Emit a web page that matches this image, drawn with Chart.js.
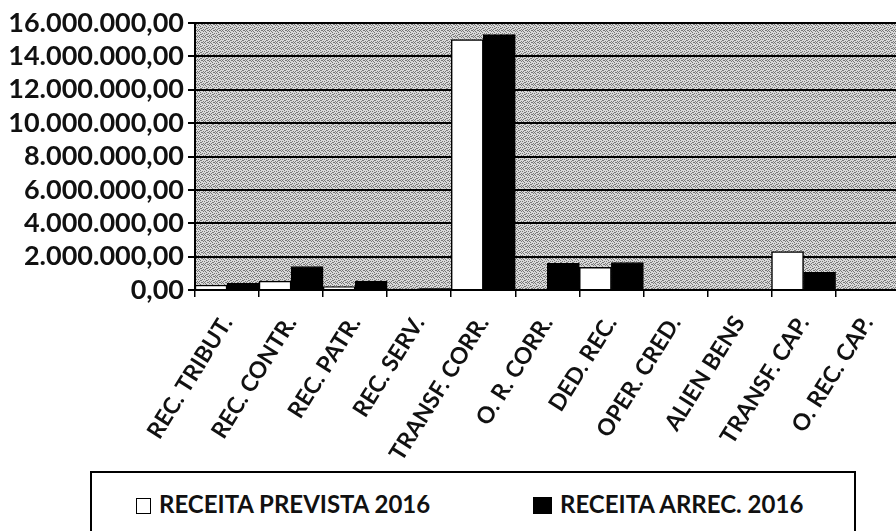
<!DOCTYPE html>
<html>
<head>
<meta charset="utf-8">
<script src="https://cdn.jsdelivr.net/npm/chart.js@4.4.1/dist/chart.umd.min.js"></script>
<style>
  body { margin: 0; overflow: hidden; background: #fff; width: 896px; height: 531px; position: relative; }
  #wrap { position: absolute; left: 0; top: 0; width: 905px; height: 531px; }
  #legend { position: absolute; left: 90px; top: 471px; width: 762px; height: 80px;
            border: 2px solid #000; background: #fff; font-family: Lato, sans-serif;
            font-weight: bold; font-size: 24px; color: #111; }
  .item { position: absolute; top: 17px; white-space: nowrap; line-height: 28px; }
  .box { display: inline-block; width: 15px; height: 16px; border: 1.5px solid #000;
         margin-right: 8px; vertical-align: -1px; box-sizing: border-box; }
</style>
</head>
<body>
<div id="wrap"><canvas id="chart" width="905" height="531"></canvas></div>
<div id="legend">
  <div class="item" style="left:44px"><span class="box" style="background:#fff"></span>RECEITA PREVISTA 2016</div>
  <div class="item" style="left:441px"><span class="box" style="background:#000;width:19px;height:17px"></span>RECEITA ARREC. 2016</div>
</div>
<script>
var categories = ["REC. TRIBUT.", "REC. CONTR.", "REC. PATR.", "REC. SERV.", "TRANSF. CORR.",
  "O. R. CORR.", "DED. REC.", "OPER. CRED.", "ALIEN BENS", "TRANSF. CAP.", "O. REC. CAP."];
var prevista = [300000, 530000, 200000, 60000, 15000000, 0, 1360000, 0, 0, 2300000, 0];
var arrecadada = [400000, 1410000, 530000, 80000, 15300000, 1600000, 1650000, 0, 30000, 1060000, 0];
var seriesNames = ["RECEITA PREVISTA 2016", "RECEITA ARREC. 2016"];

var formatBR = function(v) {
  var s = Math.round(v).toString().replace(/\B(?=(\d{3})+(?!\d))/g, ".");
  return s + ",00";
};

// dithered grey background like the scanned chart
var dots = [[0,0],[3,0],[1,1],[5,1],[2,2],[4,3],[0,3],[3,4],[1,5],[5,5],[2,4],[4,0]];
var makePattern = function(ctx) {
  var p = document.createElement("canvas");
  p.width = 6; p.height = 6;
  var pc = p.getContext("2d");
  pc.fillStyle = "#d9d9d9";
  pc.fillRect(0, 0, 6, 6);
  pc.fillStyle = "#777";
  dots.forEach(function(d) { pc.fillRect(d[0], d[1], 1, 1); });
  return ctx.createPattern(p, "repeat");
};

var bgPlugin = {
  id: "bg",
  beforeDraw: function(chart) {
    var a = chart.chartArea, ctx = chart.ctx;
    ctx.save();
    ctx.fillStyle = makePattern(ctx);
    ctx.fillRect(a.left, a.top, a.right - a.left, a.bottom - a.top);
    ctx.restore();
  }
};

var ctx = document.getElementById("chart").getContext("2d");
var chart = new Chart(ctx, {
  type: "bar",
  data: {
    labels: categories,
    datasets: [{
      label: seriesNames[0],
      data: prevista,
      backgroundColor: "#fff",
      borderColor: "#000",
      borderWidth: 1.5
    }, {
      label: seriesNames[1],
      data: arrecadada,
      backgroundColor: "#000",
      borderColor: "#000",
      borderWidth: 1
    }]
  },
  options: {
    responsive: false,
    animation: false,
    layout: { padding: { top: 23, left: 0, right: 0, bottom: 0 } },
    datasets: { bar: { categoryPercentage: 1.0, barPercentage: 1.0 } },
    plugins: { legend: { display: false }, tooltip: { enabled: false } },
    scales: {
      x: {
        afterFit: function(s) { s.height = 241; },
        grid: { drawOnChartArea: false, color: "#000", lineWidth: 1.5, tickLength: 7 },
        border: { color: "#000", width: 2 },
        ticks: {
          color: "#111", minRotation: 58, maxRotation: 58, padding: 14, autoSkip: false,
          font: { family: "Lato", weight: "bold", size: 23 }
        }
      },
      y: {
        min: 0, max: 16000000,
        afterFit: function(s) { s.width = 195; },
        grid: { color: "#000", lineWidth: 2, tickLength: 7 },
        border: { color: "#000", width: 2 },
        ticks: {
          stepSize: 2000000, color: "#111", padding: 4, autoSkip: false,
          font: { family: "Lato", weight: "bold", size: 27 },
          callback: function(v) { return formatBR(v); }
        }
      }
    }
  },
  plugins: [bgPlugin]
});
</script>
</body>
</html>
